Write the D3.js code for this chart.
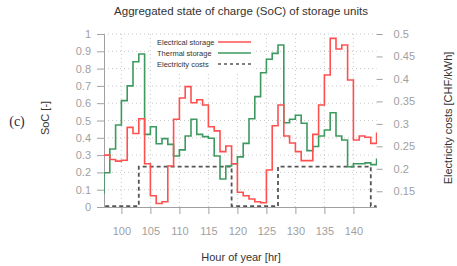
<html>
<head>
  <meta charset="utf-8">
  <script src="https://d3js.org/d3.v7.min.js"></script>
  <script>
    // hours 96..144, one value per hour (step after)
    var hours = d3.range(96, 145);
    var electrical = [0.30, 0.30, 0.275, 0.265, 0.27, 0.46, 0.425, 0.51, 0.25, 0.065,
                      0.02, 0.03, 0.237, 0.507, 0.63, 0.696, 0.603, 0.62, 0.59, 0.464,
                      0.44, 0.32, 0.353, 0.25, 0.085, 0.065, 0.046, 0.03, 0.025, 0.214,
                      0.47, 0.59, 0.41, 0.37, 0.32, 0.268, 0.268, 0.42, 0.59, 0.763,
                      0.975, 0.913, 0.936, 0.734, 0.387, 0.41, 0.403, 0.368, 0.43];
    var thermal = [0.08, 0.198, 0.335, 0.474, 0.615, 0.70, 0.84, 0.884, 0.42, 0.464,
                   0.366, 0.395, 0.362, 0.295, 0.33, 0.41, 0.507, 0.42, 0.407, 0.397,
                   0.295, 0.162, 0.237, 0.25, 0.29, 0.368, 0.51, 0.638, 0.776, 0.854,
                   0.888, 0.936, 0.487, 0.507, 0.53, 0.484, 0.326, 0.35, 0.41, 0.445,
                   0.545, 0.41, 0.387, 0.233, 0.25, 0.25, 0.255, 0.245, 0.28];
    var costs = [0.117, 0.117, 0.117, 0.117, 0.117, 0.117, 0.117, 0.205, 0.205, 0.205,
                 0.205, 0.205, 0.205, 0.205, 0.205, 0.205, 0.205, 0.205, 0.205, 0.205,
                 0.205, 0.205, 0.205, 0.117, 0.117, 0.117, 0.117, 0.117, 0.117, 0.117,
                 0.117, 0.205, 0.205, 0.205, 0.205, 0.205, 0.205, 0.205, 0.205, 0.205,
                 0.205, 0.205, 0.205, 0.205, 0.205, 0.205, 0.205, 0.117, 0.117];
    var xTicks = [100, 105, 110, 115, 120, 125, 130, 135, 140];
    var socTicks = [0, 0.1, 0.2, 0.3, 0.4, 0.5, 0.6, 0.7, 0.8, 0.9, 1];
    var costTicks = [0.15, 0.2, 0.25, 0.3, 0.35, 0.4, 0.45, 0.5];
    var legendNames = ["Electrical storage", "Thermal storage", "Electricity costs"];

    function makeChart() {
      var svg = d3.select("#chart");
      var x = d3.scaleLinear().domain([97, 144]).range([104, 376.6]);
      var y = d3.scaleLinear().domain([0, 1]).range([207, 34]);
      var y2 = d3.scaleLinear().domain([0.115, 0.5]).range([207, 34]);
      var font = "Liberation Sans, Arial, sans-serif";

      svg.append("defs").append("clipPath").attr("id", "plot")
        .append("rect").attr("x", 104).attr("y", 20).attr("width", 273).attr("height", 200);

      // grid
      var grid = svg.append("g").attr("stroke", "#c8c8c8").attr("stroke-dasharray", "1,3");
      grid.selectAll("line.h").data(socTicks.slice(1)).enter().append("line")
        .attr("x1", x(97)).attr("x2", x(144))
        .attr("y1", d => y(d)).attr("y2", d => y(d));
      grid.selectAll("line.v").data(xTicks).enter().append("line")
        .attr("x1", d => x(d)).attr("x2", d => x(d))
        .attr("y1", y(0)).attr("y2", y(1));

      // axes
      var gx = svg.append("g").attr("transform", "translate(0," + y(0) + ")")
        .call(d3.axisBottom(x).tickValues(xTicks).tickSize(7).tickSizeOuter(0).tickPadding(13));
      var gy = svg.append("g").attr("transform", "translate(" + x(97) + ",0)")
        .call(d3.axisLeft(y).tickValues(socTicks).tickFormat(d3.format("")).tickSize(7).tickPadding(6));
      var gy2 = svg.append("g").attr("transform", "translate(" + x(144) + ",0)")
        .call(d3.axisRight(y2).tickValues(costTicks).tickFormat(d3.format("")).tickSize(6).tickPadding(11));
      gy2.select(".domain").remove();
      [gx, gy, gy2].forEach(function (g) {
        g.selectAll("path, line").attr("stroke", "#a0a0a0");
        g.selectAll("text").attr("fill", "#a0a0a0").attr("font-size", 11).attr("font-family", font);
      });

      // lines
      var plot = svg.append("g").attr("clip-path", "url(#plot)");
      var lineL = d3.line().curve(d3.curveStepAfter).x((d, i) => x(hours[i])).y(d => y(d));
      var lineR = d3.line().curve(d3.curveStepAfter).x((d, i) => x(hours[i])).y(d => y2(d));
      plot.append("path").attr("d", lineR(costs)).attr("fill", "none")
        .attr("stroke", "#555").attr("stroke-width", 1.8).attr("stroke-dasharray", "4,3");
      plot.append("path").attr("d", lineL(thermal)).attr("fill", "none")
        .attr("stroke", "#3c9a5f").attr("stroke-width", 1.6);
      plot.append("path").attr("d", lineL(electrical)).attr("fill", "none")
        .attr("stroke", "#ff5050").attr("stroke-width", 1.6);

      // legend
      var lg = svg.append("g");
      lg.append("rect").attr("x", 152).attr("y", 35).attr("width", 104).attr("height", 36).attr("fill", "white");
      var styles = [["#ff5050", null], ["#3c9a5f", null], ["#555", "3,3"]];
      legendNames.forEach(function (name, i) {
        lg.append("text").attr("x", 157).attr("y", 42 + i * 11).attr("dy", "0.35em")
          .attr("font-size", 7.5).attr("font-family", font).attr("fill", "#333").text(name);
        lg.append("line").attr("x1", 218).attr("x2", 251)
          .attr("y1", 42 + i * 11).attr("y2", 42 + i * 11)
          .attr("stroke", styles[i][0]).attr("stroke-width", 1.6)
          .attr("stroke-dasharray", styles[i][1]);
      });

      // titles
      svg.append("text").attr("x", 241).attr("y", 15).attr("text-anchor", "middle")
        .attr("font-size", 11.5).attr("font-family", font).attr("fill", "#333")
        .text("Aggregated state of charge (SoC) of storage units");
      svg.append("text").attr("x", 241).attr("y", 261).attr("text-anchor", "middle")
        .attr("font-size", 11).attr("font-family", font).attr("fill", "#333")
        .text("Hour of year [hr]");
      svg.append("text").attr("transform", "translate(49,118) rotate(-90)").attr("text-anchor", "middle")
        .attr("font-size", 11).attr("font-family", font).attr("fill", "#333").text("SoC [-]");
      svg.append("text").attr("transform", "translate(452,118) rotate(-90)").attr("text-anchor", "middle")
        .attr("font-size", 11).attr("font-family", font).attr("fill", "#333")
        .text("Electricity costs [CHF/kWh]");
      svg.append("text").attr("x", 17).attr("y", 126).attr("text-anchor", "middle")
        .attr("font-size", 14).attr("font-family", "Liberation Serif, serif").attr("fill", "#1e2b4d")
        .text("(c)");
    }
  </script>
</head>
<body onload="makeChart()" style="margin:0">
  <svg id="chart" width="457" height="266" style="background: white"></svg>
</body>
</html>
